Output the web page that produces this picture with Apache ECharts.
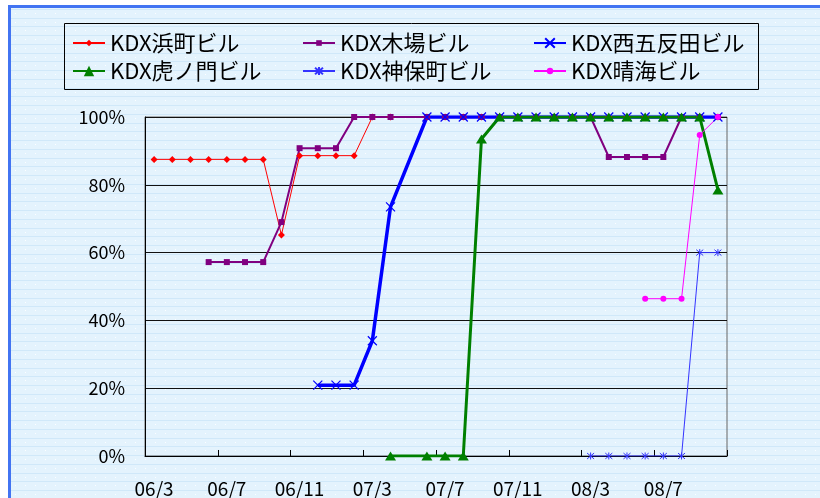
<!DOCTYPE html>
<html>
<head>
<meta charset="utf-8">
<script src="https://cdn.jsdelivr.net/npm/echarts@6/dist/echarts.min.js"></script>
<style>
html,body{margin:0;padding:0;background:#ffffff;}
#chart{width:820px;height:498px;}
</style>
</head>
<body>
<div id="chart"></div>
<script>
// ---- data ----
const categories = ['06/3','06/4','06/5','06/6','06/7','06/8','06/9','06/10','06/11','06/12',
  '07/1','07/2','07/3','07/4','07/5','07/6','07/7','07/8','07/9','07/10','07/11','07/12',
  '08/1','08/2','08/3','08/4','08/5','08/6','08/7','08/8','08/9','08/10'];
const seriesNames = ['KDX浜町ビル','KDX木場ビル','KDX西五反田ビル','KDX虎ノ門ビル','KDX神保町ビル','KDX晴海ビル'];
const hamacho = [87.5,87.5,87.5,87.5,87.5,87.5,87.5,65.2,88.6,88.6,88.6,88.6,100,100,null,100,100,100,100,100,100,100,100,100,100,100,100,100,100,100,100,100];
const kiba = [null,null,null,57.2,57.2,57.2,57.2,69.0,90.8,90.8,90.8,100,100,100,null,100,100,100,100,100,100,100,100,100,100,88.2,88.2,88.2,88.2,100,100,100];
const nishigotanda = [null,null,null,null,null,null,null,null,null,20.9,20.9,20.9,34.0,73.5,null,100,100,100,100,100,100,100,100,100,100,100,100,100,100,100,100,100];
const toranomon = [null,null,null,null,null,null,null,null,null,null,null,null,null,0,null,0,0,0,93.5,100,100,100,100,100,100,100,100,100,100,100,100,78.5];
const jimbocho = [null,null,null,null,null,null,null,null,null,null,null,null,null,null,null,null,null,null,null,null,null,null,null,null,0,0,0,0,0,0,60,60];
const harumi = [null,null,null,null,null,null,null,null,null,null,null,null,null,null,null,null,null,null,null,null,null,null,null,null,null,null,null,46.4,46.4,46.4,94.7,100];
const yTicks = [0,20,40,60,80,100];

// ---- background pattern ----
function makePattern(){
  const c = document.createElement('canvas');
  c.width = 10; c.height = 35;
  const g = c.getContext('2d');
  g.fillStyle = '#e4f3fd'; g.fillRect(0,0,10,35);
  g.fillStyle = '#d0e8f9';
  [0,9,18,26].forEach(y => g.fillRect(0,y,10,1));
  g.fillStyle = 'rgba(255,255,255,0.9)';
  [4,13,22,30].forEach(y => g.fillRect(5,y,1,1));
  return c;
}
const pat = makePattern();

const FONT = '"Noto Sans CJK JP","Noto Sans",sans-serif';
const chart = echarts.init(document.getElementById('chart'), null, {renderer:'canvas'});

const XSYM = 'path://M0,0L10,10M10,0L0,10';
const ASTSYM = 'path://M0,0L10,10M10,0L0,10M5,-1L5,11';

function lineSeries(name, data, color, width, symbol, size, extraItem){
  return {
    name: name, type: 'line', data: data, connectNulls: true,
    showAllSymbol: true, symbol: symbol, symbolSize: size,
    lineStyle: {color: color, width: width},
    itemStyle: Object.assign({color: color}, extraItem || {}),
    emphasis: {disabled: true},
    animation: false
  };
}

function legendItem(name, left, top, ih){
  return {
    data: [name], left: left, top: top, orient: 'horizontal', padding: 0,
    itemWidth: 32, itemHeight: ih, selectedMode: false,
    textStyle: {fontFamily: FONT, fontSize: 22, color: '#000', lineHeight: 22}
  };
}

const option = {
  animation: false,
  graphic: [
    {type: 'rect', z: -10, silent: true,
     shape: {x: 9.5, y: 6.5, width: 840, height: 520},
     style: {fill: {image: pat, repeat: 'repeat'}, stroke: '#4274f2', lineWidth: 3}},
    {type: 'rect', z: 10, silent: true,
     shape: {x: 64.5, y: 23.5, width: 694, height: 66},
     style: {fill: 'none', stroke: '#000', lineWidth: 1}}
  ],
  legend: [
    legendItem(seriesNames[0], 72, 32, 8),
    legendItem(seriesNames[1], 302, 32, 7),
    legendItem(seriesNames[2], 533, 32, 12),
    legendItem(seriesNames[3], 72, 60, 13),
    legendItem(seriesNames[4], 302, 60, 10),
    legendItem(seriesNames[5], 533, 60, 8)
  ],
  grid: {left: 145, top: 117, width: 582, height: 339, show: true,
         borderColor: '#666', borderWidth: 1, backgroundColor: 'transparent', containLabel: false},
  xAxis: {
    type: 'category', data: categories, boundaryGap: true,
    axisLine: {lineStyle: {color: '#000', width: 1}},
    axisTick: {show: true, inside: true, length: 6, interval: 3, lineStyle: {color: '#000'}},
    axisLabel: {interval: 3, margin: 23, fontFamily: FONT, fontSize: 19, color: '#000'},
    splitLine: {show: false}
  },
  yAxis: {
    type: 'value', min: yTicks[0], max: yTicks[yTicks.length-1], interval: 20,
    axisLine: {show: true, lineStyle: {color: '#000', width: 1}},
    axisTick: {show: false},
    axisLabel: {margin: 20, padding: [5,0,0,0], fontFamily: FONT, fontSize: 18, color: '#000', formatter: '{value}%'},
    splitLine: {show: true, lineStyle: {color: '#111', width: 1}}
  },
  series: [
    lineSeries(seriesNames[0], hamacho, '#ff0000', 1, 'diamond', 7),
    lineSeries(seriesNames[1], kiba, '#800080', 2, 'rect', 6),
    lineSeries(seriesNames[2], nishigotanda, '#0000ff', 3.5, XSYM, 9, {borderColor: '#0000ff', borderWidth: 1.2}),
    lineSeries(seriesNames[3], toranomon, '#008000', 3, 'triangle', [11, 9]),
    lineSeries(seriesNames[4], jimbocho, '#3333ff', 1, ASTSYM, 7, {borderColor: '#3333ff', borderWidth: 1}),
    lineSeries(seriesNames[5], harumi, '#ff00ff', 1, 'circle', 6)
  ]
};
chart.setOption(option);
</script>
</body>
</html>
